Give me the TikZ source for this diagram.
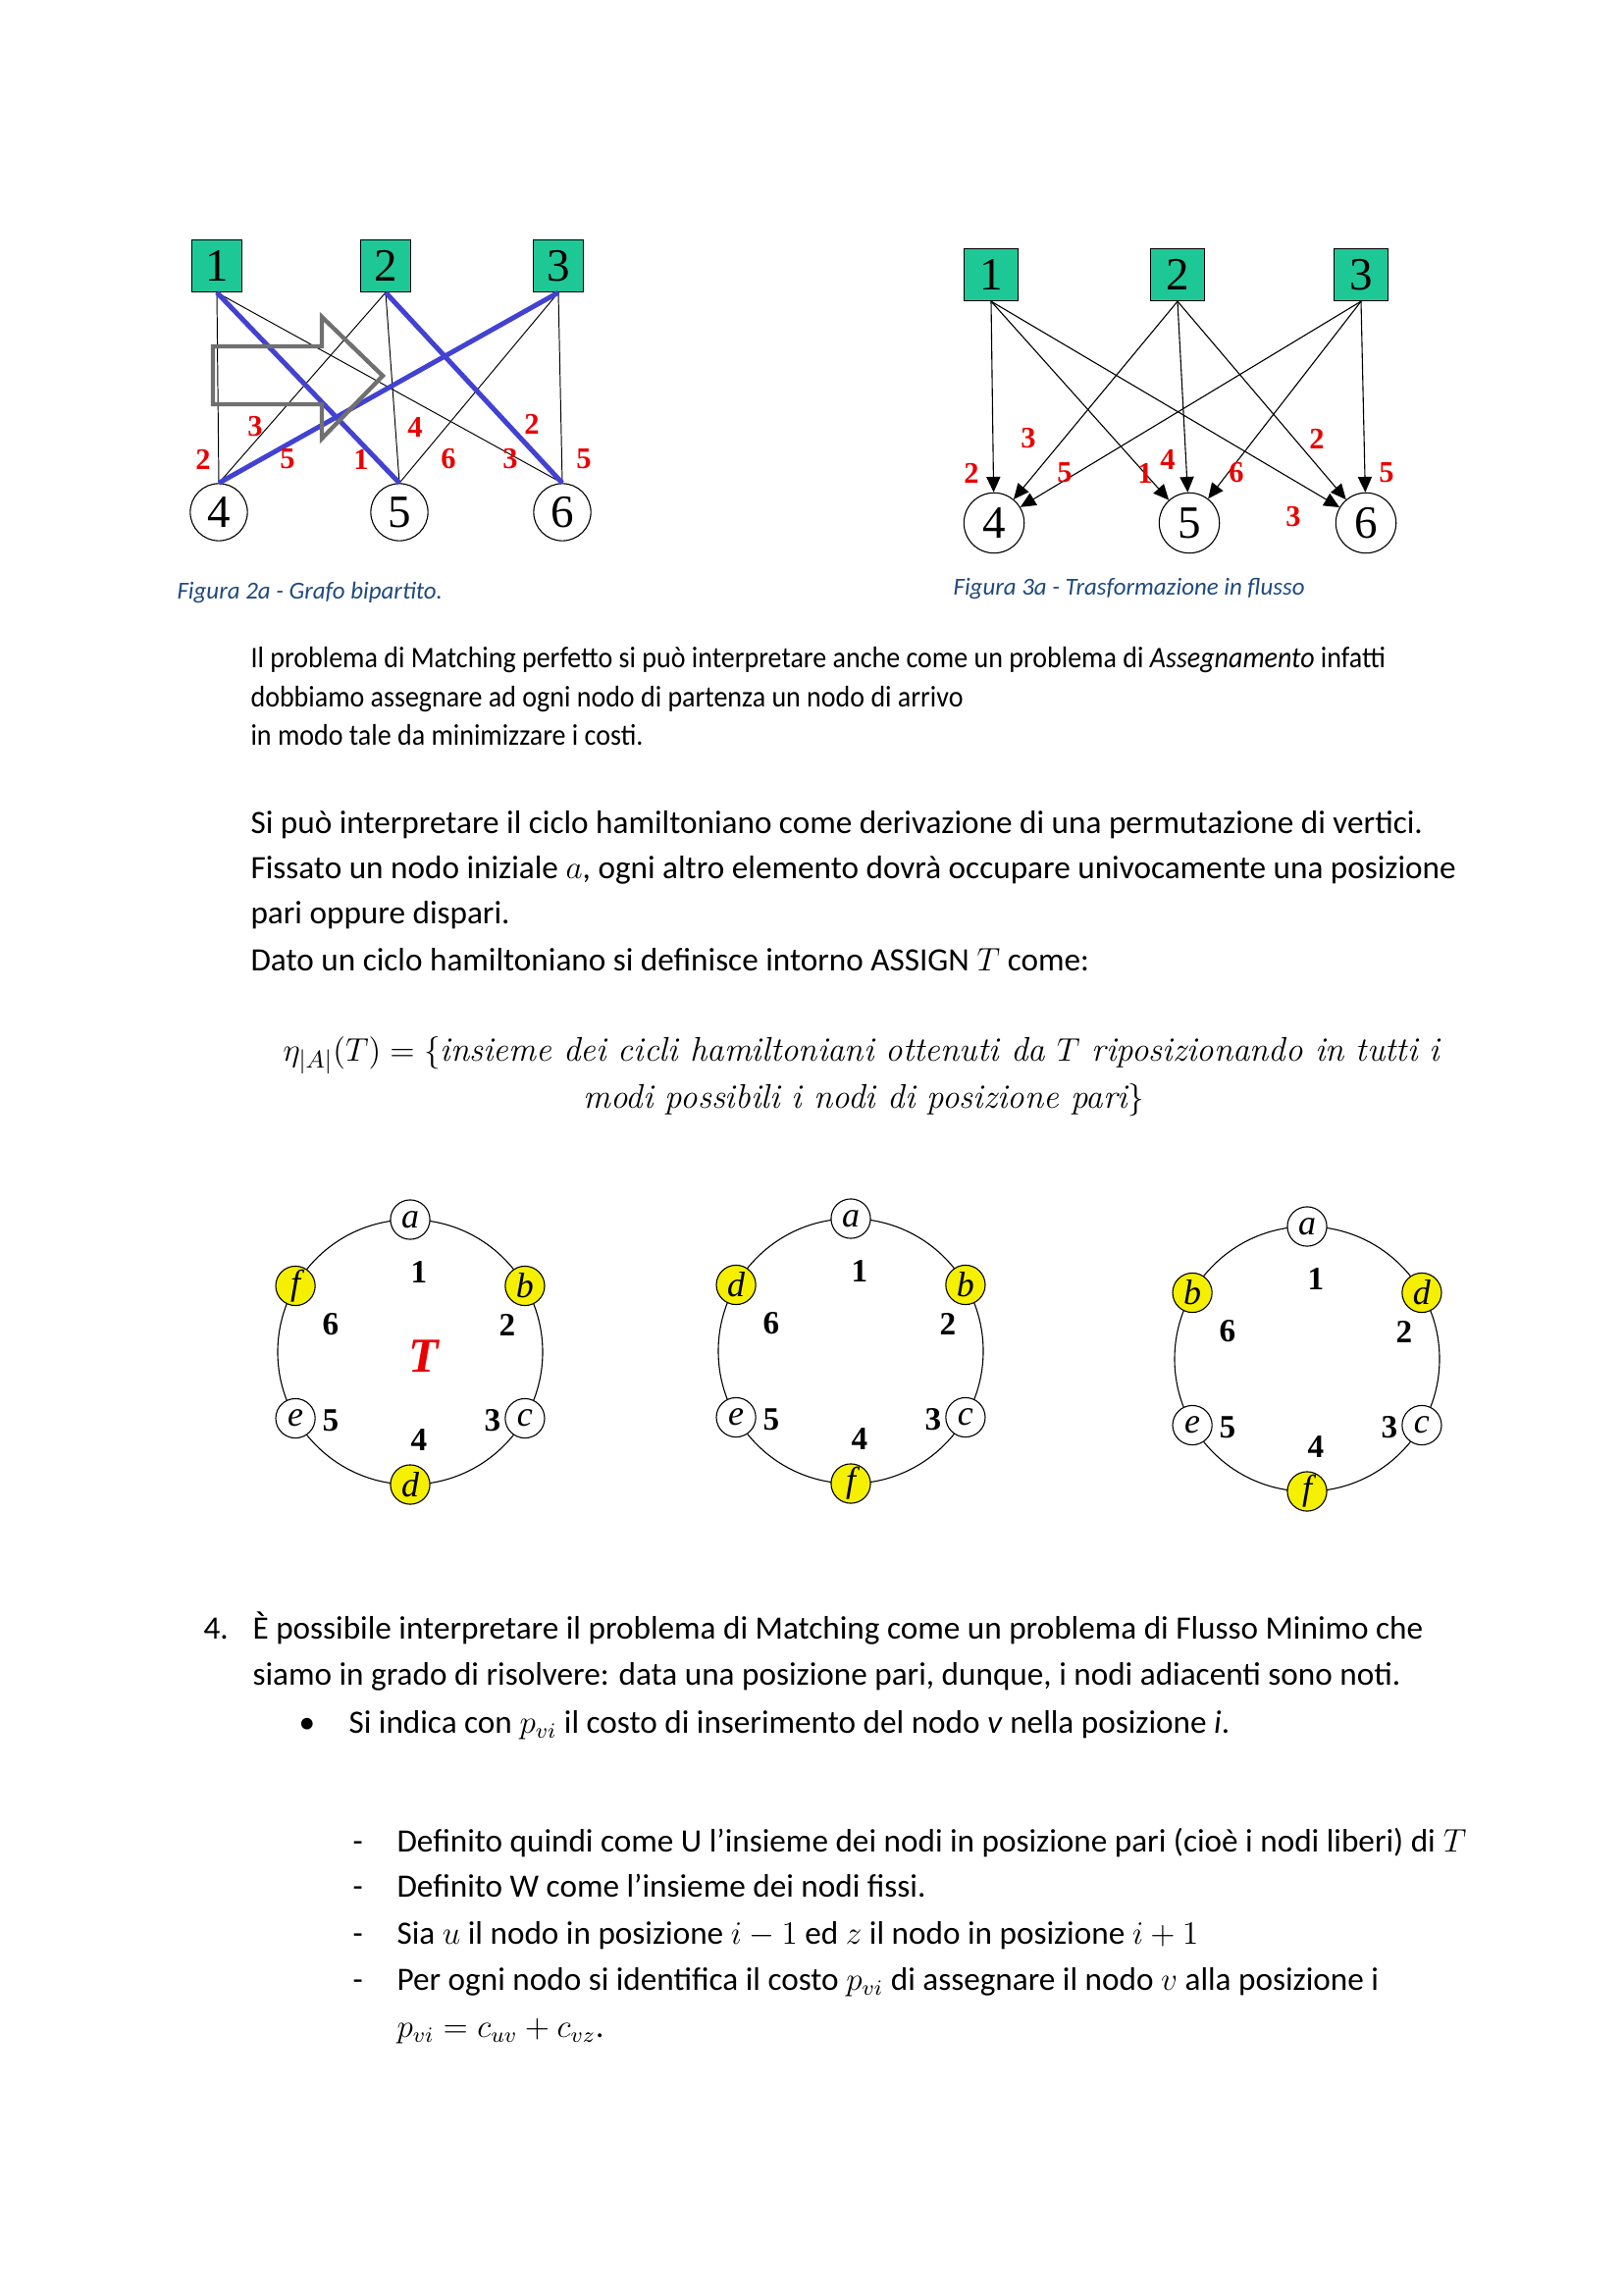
\documentclass[tikz,border=0pt]{standalone}
\usepackage{fontspec}
\setmainfont{Carlito}
\newfontfamily\narrowfont[FakeStretch=0.92]{Carlito}
\newfontfamily\timesfont{Liberation Serif}
\newfontfamily\lmfont{Latin Modern Roman}
\usetikzlibrary{arrows.meta}
\definecolor{boxgreen}{RGB}{30,200,150}
\definecolor{matchblue}{RGB}{66,66,210}
\definecolor{captionblue}{RGB}{31,73,125}
\definecolor{hilite}{RGB}{245,240,0}
\definecolor{arrowgray}{RGB}{112,112,112}
\definecolor{costred}{RGB}{235,0,0}

\begin{document}
\begin{tikzpicture}[x=0.127mm,y=-0.127mm,
  srcbox/.style={draw,fill=boxgreen,minimum width=6.5mm,minimum height=6.75mm,inner sep=0pt,
    font=\timesfont\fontsize{17}{17}\selectfont},
  dstnode/.style={draw,circle,fill=white,minimum size=7.4mm,inner sep=0pt,
    font=\timesfont\fontsize{17}{17}\selectfont},
  cost/.style={text=costred,font=\timesfont\bfseries\fontsize{11}{11}\selectfont,inner sep=0pt},
  thin edge/.style={draw=black,line width=0.35pt},
  match/.style={draw=matchblue,line width=1.8pt},
  flow/.style={draw=black,line width=0.4pt,-{Triangle[length=2mm,width=1.8mm]}},
  caption/.style={anchor=base west,text=captionblue,font=\fontsize{9}{10}\selectfont\itshape,inner sep=0pt},
  cyc/.style={draw,circle,fill=white,line width=0.4pt,minimum size=5.1mm,inner sep=0pt,
    font=\timesfont\itshape\fontsize{13}{13}\selectfont},
  freepos/.style={cyc,fill=hilite},
  posnum/.style={font=\timesfont\bfseries\fontsize{12}{12}\selectfont,inner sep=0pt},
  bodyline/.style={anchor=base west,inner sep=0pt,font=\fontsize{12}{14}\selectfont},
  smallline/.style={anchor=base west,inner sep=0pt,font=\narrowfont\fontsize{11}{13}\selectfont},
  formula/.style={inner sep=0pt,font=\lmfont\itshape\fontsize{12.6}{15}\selectfont}]
\useasboundingbox (0,0) rectangle (1654,2339);

% Figura 2a: grafo bipartito
\foreach \x/\lab in {221/1, 393/2, 569/3} {
  \node[srcbox] (s\lab) at (\x,271) {\lab};
}
\foreach \x/\lab in {223/4, 407/5, 573/6} {
  \node[dstnode] (t\lab) at (\x,522) {\lab};
}
\foreach \i/\j in {1/4, 1/6, 2/4, 2/5, 3/5, 3/6} {
  \draw[thin edge] (s\i.south) -- (t\j.north);
}
\foreach \i/\j in {1/5, 2/6, 3/4} {
  \draw[match] (s\i.south) -- (t\j.north);
}
\draw[arrowgray,line width=0.55mm,miter limit=10] (217,353) -- (328,353) -- (328,323)
  -- (390,383) -- (328,447) -- (328,412) -- (217,412) -- cycle;
\foreach \x/\y/\lab [count=\n] in {207/468/2, 260/435/3, 293/468/5, 368/468/1, 423/435/4,
    457/468/6, 520/468/3, 542/432/2, 595/468/5} {
  \node[cost] (cl\n) at (\x,\y) {\lab};
}
\node[caption] (cap2a) at (180,611) {Figura 2a - Grafo bipartito.};

% Figura 3a: trasformazione in flusso
\foreach \x/\lab in {1010/1, 1200/2, 1387/3} {
  \node[srcbox,minimum width=6.9mm] (f\lab) at (\x,280) {\lab};
}
\foreach \x/\lab in {1013/4, 1212/5, 1392/6} {
  \node[dstnode,minimum size=7.8mm] (g\lab) at (\x,533) {\lab};
}
\foreach \i in {1,2,3} {
  \foreach \j in {4,5,6} {
    \draw[flow] (f\i.south) -- (g\j);
  }
}
\foreach \x/\y/\lab [count=\n] in {990/482/2, 1048/447/3, 1085/482/5, 1167/482/1, 1190/468/4,
    1260/482/6, 1318/527/3, 1342/447/2, 1413/482/5} {
  \node[cost] (cr\n) at (\x,\y) {\lab};
}
\node[caption] (cap3a) at (971,607) {Figura 3a - Trasformazione in flusso};

% testo
\foreach \y/\t [count=\n] in {681/{Il problema di Matching perfetto si può interpretare anche come un problema di \textit{Assegnamento} infatti},
    720/{dobbiamo assegnare ad ogni nodo di partenza un nodo di arrivo},
    759/{in modo tale da minimizzare i costi.}} {
  \node[smallline] (pa\n) at (255,\y) {\t};
}
\foreach \y/\t [count=\n] in {849/{Si può interpretare il ciclo hamiltoniano come derivazione di una permutazione di vertici.},
    895/{Fissato un nodo iniziale $a$, ogni altro elemento dovrà occupare univocamente una posizione},
    941/{pari oppure dispari.},
    989/{Dato un ciclo hamiltoniano si definisce intorno ASSIGN $T$ come:}} {
  \node[bodyline] (pb\n) at (255,\y) {\t};
}
\node[formula,anchor=base west] (eq1) at (288,1081)
  {$\eta_{|A|}(T)=\{$insieme dei cicli hamiltoniani ottenuti da $T$ riposizionando in tutti i};
\node[formula,anchor=base] (eq2) at (880,1129)
  {modi possibili i nodi di posizione pari$\}$};

% cicli hamiltoniani
\foreach \cx/\cy/\k/\pa/\pb/\pc in {418/1378/1/b/d/f, 867/1377/2/b/f/d, 1332/1385/3/d/f/b} {
  \draw[line width=0.4pt] (\cx,\cy) circle (135);
  \node[cyc] (c\k a) at ([shift={(\cx,\cy)}]-90:135) {a};
  \node[freepos] (c\k b) at ([shift={(\cx,\cy)}]-30:135) {\pa};
  \node[cyc] (c\k c) at ([shift={(\cx,\cy)}]30:135) {c};
  \node[freepos] (c\k d) at ([shift={(\cx,\cy)}]90:135) {\pb};
  \node[cyc] (c\k e) at ([shift={(\cx,\cy)}]150:135) {e};
  \node[freepos] (c\k f) at ([shift={(\cx,\cy)}]210:135) {\pc};
  \foreach \dx/\dy/\lab in {9/-81/1, 99/-28/2, 84/70/3, 9/90/4, -81/70/5, -81/-28/6} {
    \node[posnum] (n\k\lab) at (\cx+\dx,\cy+\dy) {\lab};
  }
}
\node[text=costred,font=\timesfont\bfseries\itshape\fontsize{18}{18}\selectfont] (tname) at (432,1382) {T};

% punto 4
\node[bodyline] (num4) at (207,1670) {4.};
\node[bodyline] (q1) at (257,1670) {È possibile interpretare il problema di Matching come un problema di Flusso Minimo che};
\node[bodyline] (q2) at (257,1717) {siamo in grado di risolvere: data una posizione pari, dunque, i nodi adiacenti sono noti.};
\node[bodyline] (bul) at (304,1766) {\textbullet};
\node[bodyline] (q3) at (355,1766) {Si indica con $p_{vi}$ il costo di inserimento del nodo \textit{v} nella posizione \textit{i}.};
\foreach \y/\t [count=\n] in {1887/{Definito quindi come U l’insieme dei nodi in posizione pari (cioè i nodi liberi) di $T$},
    1933/{Definito W come l’insieme dei nodi fissi.},
    1981/{Sia $u$ il nodo in posizione $i-1$ ed $z$ il nodo in posizione $i+1$},
    2028/{Per ogni nodo si identifica il costo $p_{vi}$ di assegnare il nodo $v$ alla posizione i}} {
  \node[bodyline] (dash\n) at (359,\y) {-};
  \node[bodyline] (r\n) at (404,\y) {\t};
}
\node[bodyline] (r5) at (404,2076) {$p_{vi}=c_{uv}+c_{vz}$.};
\end{tikzpicture}
\end{document}
